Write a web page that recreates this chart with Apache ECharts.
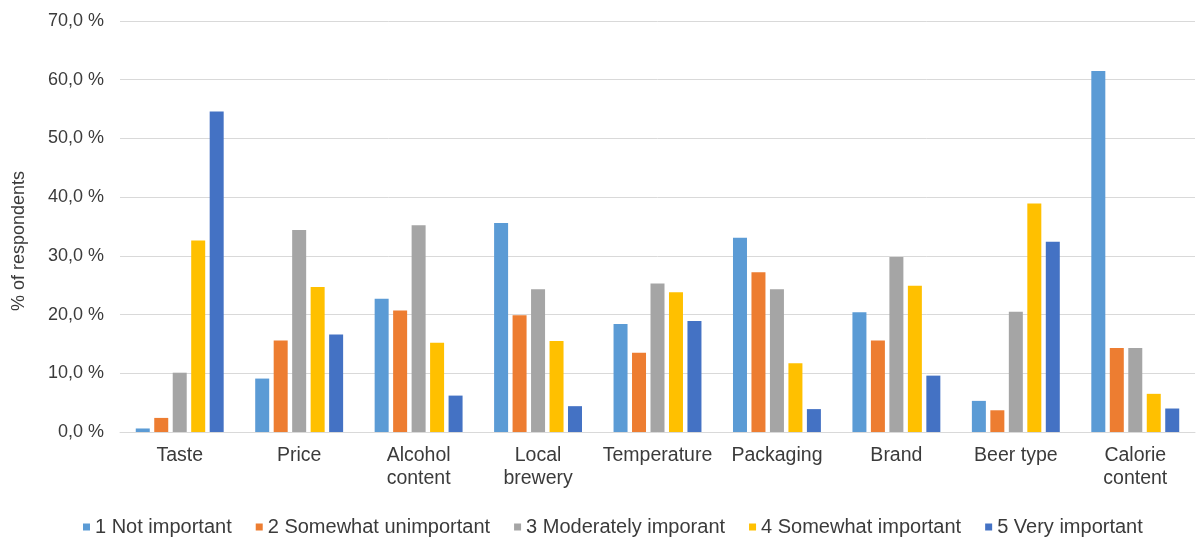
<!DOCTYPE html>
<html>
<head>
<meta charset="utf-8">
<title>Importance of beer attributes</title>
<script src="https://cdn.jsdelivr.net/npm/echarts@6/dist/echarts.min.js"></script>
<style>
  html, body { margin: 0; padding: 0; background: #ffffff; }
  #chart { width: 1200px; height: 537px; }
</style>
</head>
<body>
<div id="chart"></div>
<script>
// Attributes rated by respondents
const categories = ['Taste', 'Price', 'Alcohol\ncontent', 'Local\nbrewery', 'Temperature', 'Packaging', 'Brand', 'Beer type', 'Calorie\ncontent'];

// Rating labels (legend)
const ratingNames = ['1 Not important', '2 Somewhat unimportant', '3 Moderately imporant', '4 Somewhat important', '5 Very important'];

// Share of respondents (%) per rating, one value per attribute
const notImportant        = [0.6,  9.1, 22.7, 35.6, 18.4, 33.1, 20.4,  5.3, 61.5];
const somewhatUnimportant = [2.4, 15.6, 20.7, 19.9, 13.5, 27.2, 15.6,  3.7, 14.3];
const moderatelyImportant = [10.1, 34.4, 35.2, 24.3, 25.3, 24.3, 29.8, 20.5, 14.3];
const somewhatImportant   = [32.6, 24.7, 15.2, 15.5, 23.8, 11.7, 24.9, 38.9,  6.5];
const veryImportant       = [54.6, 16.6,  6.2,  4.4, 18.9,  3.9,  9.6, 32.4,  4.0];

// Value axis ticks
const yTicks = [0, 10, 20, 30, 40, 50, 60, 70];

const colors = ['#5B9BD5', '#ED7D31', '#A5A5A5', '#FFC000', '#4472C4'];
const seriesValues = [notImportant, somewhatUnimportant, moderatelyImportant, somewhatImportant, veryImportant];

const textColor = '#3b3b3b';
const fontFamily = '"Liberation Sans", Arial, sans-serif';

const chart = echarts.init(document.getElementById('chart'), null, { renderer: 'canvas' });

chart.setOption({
  animation: false,
  color: colors,
  textStyle: { fontFamily: fontFamily },
  grid: { left: 120, right: 5, top: 21, bottom: 105, containLabel: false },
  legend: {
    top: 512,
    left: 78,
    icon: 'rect',
    itemWidth: 7,
    itemHeight: 7,
    itemGap: 24,
    textStyle: { fontSize: 20, color: textColor, fontFamily: fontFamily },
    data: ratingNames
  },
  // y-axis title, placed slightly below the plot's vertical middle
  graphic: [{
    type: 'text',
    x: 19,
    y: 241,
    rotation: Math.PI / 2,
    style: {
      text: '% of respondents',
      fill: textColor,
      font: '18px "Liberation Sans", Arial, sans-serif',
      align: 'center',
      verticalAlign: 'middle'
    }
  }],
  xAxis: {
    type: 'category',
    data: categories,
    axisTick: { show: false },
    axisLine: { lineStyle: { color: '#D9D9D9', width: 1 } },
    axisLabel: {
      interval: 0,
      color: textColor,
      fontSize: 19.5,
      lineHeight: 23,
      margin: 12,
      fontFamily: fontFamily
    }
  },
  yAxis: {
    type: 'value',
    min: yTicks[0],
    max: yTicks[yTicks.length - 1],
    interval: 10,
    axisLine: { show: false },
    axisTick: { show: false },
    splitLine: { lineStyle: { color: '#D9D9D9', width: 1 } },
    axisLabel: {
      color: textColor,
      fontSize: 18,
      margin: 16,
      fontFamily: fontFamily,
      formatter: v => v.toFixed(1).replace('.', ',') + ' %'
    }
  },
  series: ratingNames.map((name, i) => ({
    name: name,
    type: 'bar',
    data: seriesValues[i],
    barWidth: 14,
    barGap: '32%',
    itemStyle: { color: colors[i] }
  }))
});
</script>
</body>
</html>
